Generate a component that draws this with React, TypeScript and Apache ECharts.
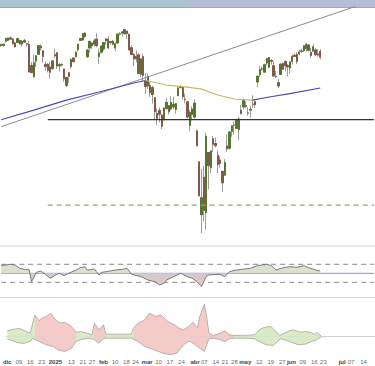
import React, { useEffect, useRef } from 'react';
import * as echarts from 'echarts';

// Trading days (index 0 = 2 Dec 2024)
const dates = [
  '12-02','12-03','12-04','12-05','12-06','12-09','12-10','12-11','12-12','12-13','12-16','12-17','12-18','12-19','12-20','12-23','12-24','12-26','12-27','12-30','12-31',
  '01-02','01-03','01-06','01-07','01-08','01-09','01-10','01-13','01-14','01-15','01-16','01-17','01-21','01-22','01-23','01-24','01-27','01-28','01-29','01-30','01-31',
  '02-03','02-04','02-05','02-06','02-07','02-10','02-11','02-12','02-13','02-14','02-18','02-19','02-20','02-21','02-24','02-25','02-26','02-27','02-28',
  '03-03','03-04','03-05','03-06','03-07','03-10','03-11','03-12','03-13','03-14','03-17','03-18','03-19','03-20','03-21','03-24','03-25','03-26','03-27','03-28','03-31',
  '04-01','04-02','04-03','04-04','04-07','04-08','04-09','04-10','04-11','04-14','04-15','04-16','04-17','04-21','04-22','04-23','04-24','04-25','04-28','04-29','04-30',
  '05-01','05-02','05-05','05-06','05-07','05-08','05-09','05-12','05-13','05-14','05-15','05-16','05-19','05-20','05-21','05-22','05-23','05-27','05-28','05-29','05-30',
  '06-02','06-03','06-04','06-05','06-06','06-09','06-10','06-11','06-12','06-13','06-16','06-17','06-18','06-20',
  '06-23','06-24','06-25','06-26','06-27','06-30','07-01','07-02','07-03','07-07','07-08','07-09','07-10','07-11','07-14','07-15','07-16','07-17','07-18','07-21','07-22','07-23','07-24',
];

// [open, close, low, high]
const candles = [
  [6040,6047,6035,6053],[6042,6050,6033,6052],[6069,6087,6061,6089],[6089,6075,6071,6092],[6082,6090,6079,6099],
  [6083,6053,6048,6088],[6057,6034,6026,6065],[6060,6085,6058,6092],[6074,6051,6051,6079],[6068,6051,6035,6078],
  [6063,6074,6059,6085],[6053,6051,6035,6058],[6048,5872,5867,6071],[5913,5867,5866,5935],[5842,5931,5832,5982],
  [5941,5975,5903,5978],[5985,6040,5983,6040],[6025,6037,6007,6049],[6007,5971,5932,6007],[5920,5907,5879,5941],[5920,5882,5868,5929],
  [5903,5869,5829,5935],[5892,5942,5888,5949],[5982,5975,5960,6021],[5994,5909,5890,6000],[5911,5918,5874,5928],[5916,5920,5906,5926],[5890,5827,5809,5890],
  [5784,5836,5773,5839],[5866,5842,5802,5871],[5906,5950,5892,5961],[5961,5937,5938,5964],[5969,5997,5964,6004],
  [6015,6049,6002,6052],[6074,6086,6075,6091],[6077,6119,6074,6118],[6121,6101,6088,6128],
  [5969,6012,5962,6017],[6026,6068,5995,6070],[6057,6039,6020,6063],[6050,6071,6033,6087],[6082,6041,6030,6121],
  [5970,5994,5923,6022],[5998,6037,5990,6042],[6020,6061,6007,6062],[6072,6084,6047,6084],[6083,6026,6019,6101],
  [6060,6066,6048,6073],[6050,6069,6042,6076],[6025,6052,6004,6063],[6058,6115,6051,6116],[6115,6115,6107,6127],
  [6121,6129,6099,6130],[6117,6144,6111,6147],[6134,6118,6084,6134],[6114,6013,6008,6114],
  [6027,5983,5982,6044],[5982,5955,5908,5992],[5970,5956,5933,6009],[5981,5861,5858,5993],[5857,5955,5837,5959],
  [5969,5850,5810,5987],[5811,5778,5732,5865],[5782,5843,5762,5861],[5785,5739,5711,5812],[5726,5770,5667,5783],
  [5706,5615,5564,5710],[5603,5573,5529,5636],[5624,5599,5547,5642],[5594,5522,5504,5598],[5563,5639,5563,5645],
  [5635,5675,5632,5703],[5655,5615,5597,5655],[5633,5675,5622,5716],[5646,5663,5633,5711],[5630,5668,5603,5670],
  [5718,5768,5718,5775],[5772,5777,5764,5786],[5772,5712,5694,5777],[5696,5693,5670,5732],[5679,5581,5572,5685],[5527,5612,5489,5627],
  [5598,5633,5558,5650],[5581,5671,5571,5695],[5492,5397,5391,5500],[5293,5074,5070,5293],
  [4953,5062,4835,5247],[5194,4982,4910,5267],[4966,5457,4856,5481],[5353,5268,5115,5353],[5255,5363,5220,5369],
  [5441,5406,5358,5459],[5411,5397,5387,5450],[5335,5276,5220,5367],[5305,5283,5255,5328],
  [5232,5158,5101,5232],[5207,5288,5207,5310],[5395,5376,5356,5469],[5381,5485,5372,5489],[5489,5525,5455,5528],
  [5529,5529,5468,5553],[5508,5561,5505,5571],[5500,5569,5433,5581],
  [5625,5604,5597,5659],[5646,5686,5631,5700],
  [5655,5650,5638,5683],[5607,5607,5590,5643],[5626,5631,5578,5655],[5663,5664,5638,5721],[5679,5660,5640,5692],
  [5807,5844,5774,5845],[5854,5886,5839,5907],[5890,5892,5877,5906],[5870,5917,5868,5924],[5929,5958,5914,5958],
  [5902,5964,5895,5968],[5945,5940,5919,5954],[5911,5845,5838,5939],[5841,5842,5830,5878],[5781,5802,5767,5829],
  [5855,5922,5854,5922],[5926,5889,5884,5930],[5939,5912,5875,5943],[5903,5912,5843,5922],
  [5897,5936,5861,5937],[5939,5970,5919,5982],[5978,5971,5966,5990],[5985,5939,5921,5999],[5987,6000,5978,6016],
  [6004,6006,5994,6021],[6009,6039,6000,6043],[6049,6022,6002,6059],[6010,6045,6003,6045],[5997,5977,5963,6026],
  [6005,6033,6004,6050],[6013,5982,5974,6024],[5987,5981,5971,6018],[6003,5967,5952,6018],
];

// Moving average, [dayIndex, value]; blue when price is above, yellow when below
const maBlueA = [[0,5564],[14,5626],[28,5690],[42,5742],[57,5800],[62,5816]];
const maYellow = [[62,5816],[71,5787],[80,5774],[86,5761],[93,5723],[100,5697],[108,5690]];
const maBlueB = [[108,5690],[115,5710],[124,5732],[137,5768]];

// Reference levels in the price pane, [dayIndex, value]
const trendLine = [[0,5519],[152,6292]];
const resistanceLine = [[20,5565],[160,5565]];
const supportLine = [[20,5015],[160,5015]];

// Oscillator (deviation from its middle line), [dayIndex, value]
const osc = [[0,17],[4,20],[6,18.4],[8,11],[10,8.8],[12,8],[13,-18.6],[14,-9.7],[15,2],[17,5],[19,-2.3],[21,-11],[23,-5],[25,0],[27,-5],[29,0],[32,7],[34,12.5],[36,14.7],[37,7],[40,9.5],[42,-4],[43,2],[45,3.6],[49,7.3],[52,8.8],[54,11],[56,-2.3],[60,-7.5],[63,-15],[66,-18.6],[68,-26],[70,-22],[71,-15],[74,-7.5],[77,0],[80,-7.5],[82,-11],[84,-18.6],[86,-29.6],[88,-7.5],[89,-3.8],[94,-2.3],[96,-7.5],[98,3.6],[101,7.3],[107,11],[110,17],[114,20],[116,17],[118,7.3],[121,12.5],[124,14.7],[127,13.3],[130,17],[132,12.5],[135,7.3],[137,5]];
const oscMid = [[0,0],[160,0]];
const oscHigh = [[0,20],[160,20]];
const oscLow = [[0,-20],[160,-20]];

// Lower indicator envelope, [dayIndex, value]
const bandUpper = [[0,5.7],[5,8.3],[10,3.3],[12,21.7],[14,15.7],[15,18.3],[17,20],[19,23.3],[21,16.7],[23,13.3],[25,14.3],[27,11.7],[28,10],[30,4.3],[32,5],[35,3.3],[37,1.7],[38,13.3],[40,6.7],[42,11.7],[43,2.3],[48,2.3],[54,2.3],[55,8.3],[57,13.3],[60,16.7],[62,23.3],[65,20],[67,21.7],[70,15],[73,11.7],[75,8.3],[77,6.7],[79,10],[80,11.7],[81,14.3],[83,8.3],[84,20],[86,32.3],[87,20],[88,3.3],[90,1],[93,3.3],[95,5.7],[97,1.7],[99,1],[105,1.3],[108,1.7],[110,6.7],[112,9],[115,10],[117,5.7],[119,1],[120,2.3],[123,5.7],[125,6.7],[128,4.3],[130,5],[132,4.3],[134,2.3],[135,4],[137,0.5]];
const bandLower = [[0,-2.3],[4,-5.7],[7,-7],[10,-5],[11,-1.7],[14,-5],[17,-8.3],[20,-10],[22,-13.3],[25,-15],[28,-11.7],[30,-5],[32,-3.3],[35,-1.7],[37,-2.3],[38,-3.3],[40,-6.7],[42,-1.7],[48,-1.7],[54,-1.7],[57,-5],[60,-10],[64,-13.3],[68,-16.7],[71,-18.3],[74,-16.7],[77,-8.3],[79,-5],[80,-5],[82,-8.3],[84,-11.7],[86,-15],[87,-8.3],[88,-2.3],[90,-1.7],[93,-3.3],[95,-5],[97,-2.3],[99,-1.7],[105,-1.7],[108,-2.3],[110,-5],[113,-8.3],[116,-9],[118,-5],[119,-2.3],[121,-3.3],[124,-5.7],[127,-8.3],[130,-7.7],[132,-5.7],[135,-3.3],[137,-0.5]];

// Axis tick labels
const tickDates = ['12-02','12-09','12-16','12-23','01-02','01-13','01-21','01-27','02-03','02-10','02-18','02-24','03-03','03-10','03-17','03-24','04-01','04-07','04-14','04-21','04-28','05-01','05-12','05-19','05-27','06-02','06-09','06-16','06-23','07-01','07-07','07-14'];
const tickTexts = ['dic','09','16','23','2025','13','21','27','feb','10','18','24','mar','10','17','24','abr','07','14','21','28','may','12','19','27','jun','09','16','23','jul','07','14'];
const monthTexts = ['dic','2025','feb','mar','abr','may','jun','jul'];

export default function App() {
  const ref = useRef<HTMLDivElement>(null);
  useEffect(() => {
    if (!ref.current) return;
    const chart = echarts.init(ref.current, null, { renderer: 'svg' });
    const tickMap: Record<string, string> = {};
    tickDates.forEach((d, i) => { tickMap[d] = tickTexts[i]; });
    // small horizontal nudges (px) for crowded labels
    const nudge: Record<string, number> = { '04-28': -2, '05-01': 2, '07-01': 5, '07-07': 7, '07-14': 8 };

    const GREEN = '#d9ebc6';
    const PINK = '#f4cbc9';
    const FONT = 'Liberation Sans, Arial, sans-serif';

    const wickData = candles.map((r) => [r[0], r[1], r[2], r[3]]);
    const bodyData = candles.map((r) => [r[0], r[1], Math.min(r[0], r[1]), Math.max(r[0], r[1])]);

    const hiddenX = (gi: number) => ({
      type: 'category', gridIndex: gi, data: dates, boundaryGap: true,
      axisLine: { show: false }, axisTick: { show: false }, axisLabel: { show: false }, splitLine: { show: false },
    });
    const hiddenY = (gi: number, min: number, max: number) => ({
      type: 'value', gridIndex: gi, min, max, show: false, splitLine: { show: false },
    });
    const refLine = (data: number[][], gi: number, color: string, width: number, type: any, z = 5) => ({
      type: 'line', data, xAxisIndex: gi, yAxisIndex: gi, symbol: 'none', silent: true,
      lineStyle: { color, width, type }, z,
    });

    const rich: any = {};
    ['m', 'd'].forEach((k) => {
      [-2, 0, 2, 5, 7, 8].forEach((n) => {
        rich[k + (n < 0 ? 'n' + -n : 'p' + n)] = {
          fontSize: 6, fontFamily: FONT,
          fontWeight: k === 'm' ? 'bold' : 'normal',
          color: k === 'm' ? '#444' : '#6a6a6a',
          padding: n >= 0 ? [0, 0, 0, 2 * n] : [0, -2 * n, 0, 0],
        };
      });
    });

    const option: any = {
      animation: false,
      backgroundColor: '#ffffff',
      grid: [
        { left: 0, right: 0, top: 0, height: 245 },
        { left: 0, right: 0, top: 250.8, height: 45 },
        { left: 0, right: 0, top: 298, height: 57 },
      ],
      xAxis: [
        hiddenX(0),
        hiddenX(1),
        {
          type: 'category', gridIndex: 2, data: dates, boundaryGap: true,
          axisLine: { show: true, lineStyle: { color: '#cfcfcf', width: 1 } },
          axisTick: { show: false },
          splitLine: { show: false },
          axisLabel: {
            show: true, margin: 4, fontSize: 6, fontFamily: FONT, color: '#6a6a6a',
            interval: (_i: number, v: string) => tickMap[v] !== undefined,
            formatter: (v: string) => {
              const t = tickMap[v];
              if (t === undefined) return '';
              const n = nudge[v] || 0;
              const key = (monthTexts.includes(t) ? 'm' : 'd') + (n < 0 ? 'n' + -n : 'p' + n);
              return '{' + key + '|' + t + '}';
            },
            rich,
          },
        },
      ],
      yAxis: [
        hiddenY(0, 4758, 6334),
        hiddenY(1, -50, 50),
        hiddenY(2, -18.5, 38.5),
      ],
      visualMap: [
        {
          type: 'piecewise', show: false, seriesIndex: 5, dimension: 1,
          pieces: [{ gte: -50, lt: 0, color: '#d8c8c8' }, { gte: 0, lte: 50, color: '#dbe1cf' }],
        },
        {
          type: 'piecewise', show: false, seriesIndex: [6, 7], dimension: 0,
          pieces: [
            { gte: -1, lt: 11.5, color: GREEN },
            { gte: 11.5, lt: 29.5, color: PINK },
            { gte: 29.5, lt: 37.5, color: GREEN },
            { gte: 37.5, lt: 42.5, color: PINK },
            { gte: 42.5, lt: 54.5, color: GREEN },
            { gte: 54.5, lt: 98.5, color: PINK },
            { gte: 98.5, lte: 161, color: GREEN },
          ],
        },
      ],
      graphic: [
        { type: 'rect', shape: { x: 0, y: 0, width: 190, height: 7 }, style: { fill: '#abc5d3' }, z: 1 },
        { type: 'rect', shape: { x: 190, y: 0, width: 185, height: 7 }, style: { fill: '#b6bdd5' }, z: 1 },
        { type: 'line', shape: { x1: 0, y1: 7.5, x2: 375, y2: 7.5 }, style: { stroke: '#98a8b8', lineWidth: 1 }, z: 1 },
        { type: 'line', shape: { x1: 0, y1: 246, x2: 375, y2: 246 }, style: { stroke: '#d6d6d6', lineWidth: 1.2 }, z: 1 },
        { type: 'line', shape: { x1: 0, y1: 297.5, x2: 375, y2: 297.5 }, style: { stroke: '#d6d6d6', lineWidth: 1.2 }, z: 1 },
      ],
      series: [
        {
          type: 'candlestick', name: 'wicks', xAxisIndex: 0, yAxisIndex: 0, data: wickData,
          barWidth: '80%',
          itemStyle: { color: '#9c9c9c', color0: '#9c9c9c', borderColor: '#9c9c9c', borderColor0: '#9c9c9c', borderWidth: 1 },
          z: 3,
        },
        {
          type: 'candlestick', name: 'bodies', xAxisIndex: 0, yAxisIndex: 0, data: bodyData,
          barWidth: '80%',
          itemStyle: { color: '#557630', color0: '#85594a', borderColor: '#557630', borderColor0: '#85594a', borderWidth: 1 },
          z: 4,
        },
        {
          type: 'line', name: 'ma', xAxisIndex: 0, yAxisIndex: 0, data: maBlueA, symbol: 'none',
          lineStyle: { color: '#4a4ab8', width: 1.2 }, z: 6,
        },
        {
          type: 'line', name: 'ma2', xAxisIndex: 0, yAxisIndex: 0, data: maYellow, symbol: 'none',
          lineStyle: { color: '#c9b865', width: 1.2 }, z: 6,
        },
        {
          type: 'line', name: 'ma3', xAxisIndex: 0, yAxisIndex: 0, data: maBlueB, symbol: 'none',
          lineStyle: { color: '#4a4ab8', width: 1.2 }, z: 6,
        },
        {
          type: 'line', name: 'osc', xAxisIndex: 1, yAxisIndex: 1, data: osc, symbol: 'none',
          lineStyle: { color: '#6e6e6e', width: 0.9 },
          areaStyle: { opacity: 1 }, z: 3,
        },
        {
          type: 'line', name: 'bandUp', xAxisIndex: 2, yAxisIndex: 2, data: bandUpper, symbol: 'none',
          lineStyle: { color: '#a9a59c', width: 0.8 }, areaStyle: { opacity: 1 },
        },
        {
          type: 'line', name: 'bandLow', xAxisIndex: 2, yAxisIndex: 2, data: bandLower, symbol: 'none',
          lineStyle: { color: '#a9a59c', width: 0.8 }, areaStyle: { opacity: 1 },
        },
        refLine(trendLine, 0, '#8c8c8c', 1, 'solid'),
        refLine(resistanceLine, 0, '#333333', 1.3, 'solid'),
        refLine(supportLine, 0, '#93a86a', 1.3, [5, 4]),
        refLine(oscMid, 1, '#8c8cdc', 1, 'solid', 2),
        refLine(oscHigh, 1, '#8a8a8a', 1, [5, 4], 2),
        refLine(oscLow, 1, '#8a8a8a', 1, [5, 4], 2),
      ],
    };
    chart.setOption(option);
    return () => chart.dispose();
  }, []);
  return <div ref={ref} style={{ position: 'fixed', left: 0, top: 0, width: 375, height: 366 }} />;
}
